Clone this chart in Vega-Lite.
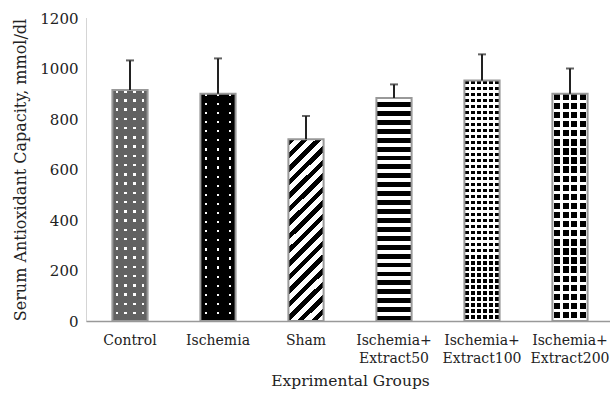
{
"$schema":"https://vega.github.io/schema/vega-lite/v6.json",
"width":528,"height":303,
"autosize":{"type":"none"},
"padding":{"left":86,"top":18,"right":0,"bottom":76},
"background":"white",
"config":{"view":{"stroke":null},"font":"DejaVu Serif"},
"data":{"values":[
{"group":"Control","value":915,"err":1032},
{"group":"Ischemia","value":900,"err":1040},
{"group":"Sham","value":720,"err":812},
{"group":"Ischemia+ Extract50","value":883,"err":937},
{"group":"Ischemia+ Extract100","value":952,"err":1056},
{"group":"Ischemia+ Extract200","value":900,"err":1000}
]},
"encoding":{
"x":{"field":"group","type":"nominal","sort":null,
 "scale":{"domain":["Control","Ischemia","Sham","Ischemia+ Extract50","Ischemia+ Extract100","Ischemia+ Extract200"],"paddingInner":0.6,"paddingOuter":0.3},
 "axis":{"title":"Exprimental Groups","labelAngle":0,"ticks":false,"domainColor":"#999","domainWidth":1.5,"labelPadding":12,"labelFontSize":14,"labelColor":"#222","labelLineHeight":18,"labelBaseline":"top",
 "labelExpr":"length(split(datum.label,'+ '))>1 ? [split(datum.label,'+ ')[0]+'+', split(datum.label,'+ ')[1]] : datum.label",
 "titleFontSize":15.5,"titleFontWeight":"normal","titleColor":"#222","titlePadding":8}},
"y":{"field":"value","type":"quantitative","scale":{"domain":[0,1200]},
 "axis":{"values":[0,200,400,600,800,1000,1200],"format":"d","ticks":false,"grid":false,"domainColor":"#aaa","domainDash":[1,1],"labelPadding":8,"labelFontSize":15,"labelColor":"#222",
 "title":"Serum Antioxidant Capacity, mmol/dl","titleFontSize":16,"titleFontWeight":"normal","titleColor":"#222","titlePadding":11}}
},
"layer":[
{"mark":{"type":"bar"},"encoding":{"fill":{"field":"group","type":"nominal","scale":{"domain":["Control","Ischemia","Sham","Ischemia+ Extract50","Ischemia+ Extract100","Ischemia+ Extract200"],"range":["#ffffff","#ffffff","#ffffff","#ffffff","#000000","#000000"]},"legend":null}}},
{"transform":[{"filter":"datum.group=='Control'"}],"mark":{"type":"bar","fill":{"gradient":"linear","x1":0,"y1":0,"x2":0,"y2":1,"stops":[
{"offset":0,"color":"transparent"},{"offset":0.011,"color":"transparent"},{"offset":0.011,"color":"#626262"},{"offset":0.04,"color":"#626262"},
{"offset":0.04,"color":"transparent"},{"offset":0.051,"color":"transparent"},{"offset":0.051,"color":"#626262"},{"offset":0.08,"color":"#626262"},
{"offset":0.08,"color":"transparent"},{"offset":0.091,"color":"transparent"},{"offset":0.091,"color":"#626262"},{"offset":0.12,"color":"#626262"},
{"offset":0.12,"color":"transparent"},{"offset":0.131,"color":"transparent"},{"offset":0.131,"color":"#626262"},{"offset":0.16,"color":"#626262"},
{"offset":0.16,"color":"transparent"},{"offset":0.171,"color":"transparent"},{"offset":0.171,"color":"#626262"},{"offset":0.2,"color":"#626262"},
{"offset":0.2,"color":"transparent"},{"offset":0.211,"color":"transparent"},{"offset":0.211,"color":"#626262"},{"offset":0.24,"color":"#626262"},
{"offset":0.24,"color":"transparent"},{"offset":0.251,"color":"transparent"},{"offset":0.251,"color":"#626262"},{"offset":0.28,"color":"#626262"},
{"offset":0.28,"color":"transparent"},{"offset":0.291,"color":"transparent"},{"offset":0.291,"color":"#626262"},{"offset":0.32,"color":"#626262"},
{"offset":0.32,"color":"transparent"},{"offset":0.331,"color":"transparent"},{"offset":0.331,"color":"#626262"},{"offset":0.36,"color":"#626262"},
{"offset":0.36,"color":"transparent"},{"offset":0.371,"color":"transparent"},{"offset":0.371,"color":"#626262"},{"offset":0.4,"color":"#626262"},
{"offset":0.4,"color":"transparent"},{"offset":0.411,"color":"transparent"},{"offset":0.411,"color":"#626262"},{"offset":0.44,"color":"#626262"},
{"offset":0.44,"color":"transparent"},{"offset":0.451,"color":"transparent"},{"offset":0.451,"color":"#626262"},{"offset":0.48,"color":"#626262"},
{"offset":0.48,"color":"transparent"},{"offset":0.491,"color":"transparent"},{"offset":0.491,"color":"#626262"},{"offset":0.52,"color":"#626262"},
{"offset":0.52,"color":"transparent"},{"offset":0.531,"color":"transparent"},{"offset":0.531,"color":"#626262"},{"offset":0.56,"color":"#626262"},
{"offset":0.56,"color":"transparent"},{"offset":0.571,"color":"transparent"},{"offset":0.571,"color":"#626262"},{"offset":0.6,"color":"#626262"},
{"offset":0.6,"color":"transparent"},{"offset":0.611,"color":"transparent"},{"offset":0.611,"color":"#626262"},{"offset":0.64,"color":"#626262"},
{"offset":0.64,"color":"transparent"},{"offset":0.651,"color":"transparent"},{"offset":0.651,"color":"#626262"},{"offset":0.68,"color":"#626262"},
{"offset":0.68,"color":"transparent"},{"offset":0.691,"color":"transparent"},{"offset":0.691,"color":"#626262"},{"offset":0.72,"color":"#626262"},
{"offset":0.72,"color":"transparent"},{"offset":0.731,"color":"transparent"},{"offset":0.731,"color":"#626262"},{"offset":0.76,"color":"#626262"},
{"offset":0.76,"color":"transparent"},{"offset":0.771,"color":"transparent"},{"offset":0.771,"color":"#626262"},{"offset":0.8,"color":"#626262"},
{"offset":0.8,"color":"transparent"},{"offset":0.811,"color":"transparent"},{"offset":0.811,"color":"#626262"},{"offset":0.84,"color":"#626262"},
{"offset":0.84,"color":"transparent"},{"offset":0.851,"color":"transparent"},{"offset":0.851,"color":"#626262"},{"offset":0.88,"color":"#626262"},
{"offset":0.88,"color":"transparent"},{"offset":0.891,"color":"transparent"},{"offset":0.891,"color":"#626262"},{"offset":0.92,"color":"#626262"},
{"offset":0.92,"color":"transparent"},{"offset":0.931,"color":"transparent"},{"offset":0.931,"color":"#626262"},{"offset":0.96,"color":"#626262"},
{"offset":0.96,"color":"transparent"},{"offset":0.971,"color":"transparent"},{"offset":0.971,"color":"#626262"},{"offset":1,"color":"#626262"}
]}}},
{"transform":[{"filter":"datum.group=='Control'"}],"mark":{"type":"bar","fill":{"gradient":"linear","x1":0,"y1":0,"x2":1,"y2":0,"stops":[
{"offset":0,"color":"#626262"},{"offset":0.09,"color":"#626262"},{"offset":0.09,"color":"transparent"},{"offset":0.16,"color":"transparent"},
{"offset":0.16,"color":"#626262"},{"offset":0.34,"color":"#626262"},{"offset":0.34,"color":"transparent"},{"offset":0.41,"color":"transparent"},
{"offset":0.41,"color":"#626262"},{"offset":0.59,"color":"#626262"},{"offset":0.59,"color":"transparent"},{"offset":0.66,"color":"transparent"},
{"offset":0.66,"color":"#626262"},{"offset":0.84,"color":"#626262"},{"offset":0.84,"color":"transparent"},{"offset":0.91,"color":"transparent"},
{"offset":0.91,"color":"#626262"},{"offset":1,"color":"#626262"}
]}}},
{"transform":[{"filter":"datum.group=='Ischemia'"}],"mark":{"type":"bar","fill":{"gradient":"linear","x1":0,"y1":0,"x2":0,"y2":1,"stops":[
{"offset":0,"color":"transparent"},{"offset":0.01,"color":"transparent"},{"offset":0.01,"color":"#000"},{"offset":0.04,"color":"#000"},
{"offset":0.04,"color":"transparent"},{"offset":0.05,"color":"transparent"},{"offset":0.05,"color":"#000"},{"offset":0.08,"color":"#000"},
{"offset":0.08,"color":"transparent"},{"offset":0.09,"color":"transparent"},{"offset":0.09,"color":"#000"},{"offset":0.12,"color":"#000"},
{"offset":0.12,"color":"transparent"},{"offset":0.13,"color":"transparent"},{"offset":0.13,"color":"#000"},{"offset":0.16,"color":"#000"},
{"offset":0.16,"color":"transparent"},{"offset":0.17,"color":"transparent"},{"offset":0.17,"color":"#000"},{"offset":0.2,"color":"#000"},
{"offset":0.2,"color":"transparent"},{"offset":0.21,"color":"transparent"},{"offset":0.21,"color":"#000"},{"offset":0.24,"color":"#000"},
{"offset":0.24,"color":"transparent"},{"offset":0.25,"color":"transparent"},{"offset":0.25,"color":"#000"},{"offset":0.28,"color":"#000"},
{"offset":0.28,"color":"transparent"},{"offset":0.29,"color":"transparent"},{"offset":0.29,"color":"#000"},{"offset":0.32,"color":"#000"},
{"offset":0.32,"color":"transparent"},{"offset":0.33,"color":"transparent"},{"offset":0.33,"color":"#000"},{"offset":0.36,"color":"#000"},
{"offset":0.36,"color":"transparent"},{"offset":0.37,"color":"transparent"},{"offset":0.37,"color":"#000"},{"offset":0.4,"color":"#000"},
{"offset":0.4,"color":"transparent"},{"offset":0.41,"color":"transparent"},{"offset":0.41,"color":"#000"},{"offset":0.44,"color":"#000"},
{"offset":0.44,"color":"transparent"},{"offset":0.45,"color":"transparent"},{"offset":0.45,"color":"#000"},{"offset":0.48,"color":"#000"},
{"offset":0.48,"color":"transparent"},{"offset":0.49,"color":"transparent"},{"offset":0.49,"color":"#000"},{"offset":0.52,"color":"#000"},
{"offset":0.52,"color":"transparent"},{"offset":0.53,"color":"transparent"},{"offset":0.53,"color":"#000"},{"offset":0.56,"color":"#000"},
{"offset":0.56,"color":"transparent"},{"offset":0.57,"color":"transparent"},{"offset":0.57,"color":"#000"},{"offset":0.6,"color":"#000"},
{"offset":0.6,"color":"transparent"},{"offset":0.61,"color":"transparent"},{"offset":0.61,"color":"#000"},{"offset":0.64,"color":"#000"},
{"offset":0.64,"color":"transparent"},{"offset":0.65,"color":"transparent"},{"offset":0.65,"color":"#000"},{"offset":0.68,"color":"#000"},
{"offset":0.68,"color":"transparent"},{"offset":0.69,"color":"transparent"},{"offset":0.69,"color":"#000"},{"offset":0.72,"color":"#000"},
{"offset":0.72,"color":"transparent"},{"offset":0.73,"color":"transparent"},{"offset":0.73,"color":"#000"},{"offset":0.76,"color":"#000"},
{"offset":0.76,"color":"transparent"},{"offset":0.77,"color":"transparent"},{"offset":0.77,"color":"#000"},{"offset":0.8,"color":"#000"},
{"offset":0.8,"color":"transparent"},{"offset":0.81,"color":"transparent"},{"offset":0.81,"color":"#000"},{"offset":0.84,"color":"#000"},
{"offset":0.84,"color":"transparent"},{"offset":0.85,"color":"transparent"},{"offset":0.85,"color":"#000"},{"offset":0.88,"color":"#000"},
{"offset":0.88,"color":"transparent"},{"offset":0.89,"color":"transparent"},{"offset":0.89,"color":"#000"},{"offset":0.92,"color":"#000"},
{"offset":0.92,"color":"transparent"},{"offset":0.93,"color":"transparent"},{"offset":0.93,"color":"#000"},{"offset":0.96,"color":"#000"},
{"offset":0.96,"color":"transparent"},{"offset":0.97,"color":"transparent"},{"offset":0.97,"color":"#000"},{"offset":1,"color":"#000"}
]}}},
{"transform":[{"filter":"datum.group=='Ischemia'"}],"mark":{"type":"bar","fill":{"gradient":"linear","x1":0,"y1":0,"x2":1,"y2":0,"stops":[
{"offset":0,"color":"#000"},{"offset":0.133,"color":"#000"},{"offset":0.133,"color":"transparent"},{"offset":0.2,"color":"transparent"},
{"offset":0.2,"color":"#000"},{"offset":0.467,"color":"#000"},{"offset":0.467,"color":"transparent"},{"offset":0.533,"color":"transparent"},
{"offset":0.533,"color":"#000"},{"offset":0.8,"color":"#000"},{"offset":0.8,"color":"transparent"},{"offset":0.867,"color":"transparent"},
{"offset":0.867,"color":"#000"},{"offset":1,"color":"#000"}
]}}},
{"transform":[{"filter":"datum.group=='Sham'"}],"mark":{"type":"bar","fill":{"gradient":"linear","x1":0,"y1":0,"x2":0.22,"y2":1.15,"stops":[
{"offset":0,"color":"#000"},{"offset":0.03,"color":"#000"},{"offset":0.03,"color":"#fff"},{"offset":0.0625,"color":"#fff"},
{"offset":0.0625,"color":"#000"},{"offset":0.0925,"color":"#000"},{"offset":0.0925,"color":"#fff"},{"offset":0.125,"color":"#fff"},
{"offset":0.125,"color":"#000"},{"offset":0.155,"color":"#000"},{"offset":0.155,"color":"#fff"},{"offset":0.1875,"color":"#fff"},
{"offset":0.1875,"color":"#000"},{"offset":0.2175,"color":"#000"},{"offset":0.2175,"color":"#fff"},{"offset":0.25,"color":"#fff"},
{"offset":0.25,"color":"#000"},{"offset":0.28,"color":"#000"},{"offset":0.28,"color":"#fff"},{"offset":0.3125,"color":"#fff"},
{"offset":0.3125,"color":"#000"},{"offset":0.3425,"color":"#000"},{"offset":0.3425,"color":"#fff"},{"offset":0.375,"color":"#fff"},
{"offset":0.375,"color":"#000"},{"offset":0.405,"color":"#000"},{"offset":0.405,"color":"#fff"},{"offset":0.4375,"color":"#fff"},
{"offset":0.4375,"color":"#000"},{"offset":0.4675,"color":"#000"},{"offset":0.4675,"color":"#fff"},{"offset":0.5,"color":"#fff"},
{"offset":0.5,"color":"#000"},{"offset":0.53,"color":"#000"},{"offset":0.53,"color":"#fff"},{"offset":0.5625,"color":"#fff"},
{"offset":0.5625,"color":"#000"},{"offset":0.5925,"color":"#000"},{"offset":0.5925,"color":"#fff"},{"offset":0.625,"color":"#fff"},
{"offset":0.625,"color":"#000"},{"offset":0.655,"color":"#000"},{"offset":0.655,"color":"#fff"},{"offset":0.6875,"color":"#fff"},
{"offset":0.6875,"color":"#000"},{"offset":0.7175,"color":"#000"},{"offset":0.7175,"color":"#fff"},{"offset":0.75,"color":"#fff"},
{"offset":0.75,"color":"#000"},{"offset":0.78,"color":"#000"},{"offset":0.78,"color":"#fff"},{"offset":0.8125,"color":"#fff"},
{"offset":0.8125,"color":"#000"},{"offset":0.8425,"color":"#000"},{"offset":0.8425,"color":"#fff"},{"offset":0.875,"color":"#fff"},
{"offset":0.875,"color":"#000"},{"offset":0.905,"color":"#000"},{"offset":0.905,"color":"#fff"},{"offset":0.9375,"color":"#fff"},
{"offset":0.9375,"color":"#000"},{"offset":0.9675,"color":"#000"},{"offset":0.9675,"color":"#fff"},{"offset":1,"color":"#fff"}
]}}},
{"transform":[{"filter":"datum.group=='Ischemia+ Extract50'"}],"mark":{"type":"bar","fill":{"gradient":"linear","x1":0,"y1":0,"x2":0,"y2":1,"stops":[
{"offset":0,"color":"#fff"},{"offset":0.018,"color":"#fff"},{"offset":0.018,"color":"#000"},{"offset":0.04,"color":"#000"},
{"offset":0.04,"color":"#fff"},{"offset":0.058,"color":"#fff"},{"offset":0.058,"color":"#000"},{"offset":0.08,"color":"#000"},
{"offset":0.08,"color":"#fff"},{"offset":0.098,"color":"#fff"},{"offset":0.098,"color":"#000"},{"offset":0.12,"color":"#000"},
{"offset":0.12,"color":"#fff"},{"offset":0.138,"color":"#fff"},{"offset":0.138,"color":"#000"},{"offset":0.16,"color":"#000"},
{"offset":0.16,"color":"#fff"},{"offset":0.178,"color":"#fff"},{"offset":0.178,"color":"#000"},{"offset":0.2,"color":"#000"},
{"offset":0.2,"color":"#fff"},{"offset":0.218,"color":"#fff"},{"offset":0.218,"color":"#000"},{"offset":0.24,"color":"#000"},
{"offset":0.24,"color":"#fff"},{"offset":0.258,"color":"#fff"},{"offset":0.258,"color":"#000"},{"offset":0.28,"color":"#000"},
{"offset":0.28,"color":"#fff"},{"offset":0.298,"color":"#fff"},{"offset":0.298,"color":"#000"},{"offset":0.32,"color":"#000"},
{"offset":0.32,"color":"#fff"},{"offset":0.338,"color":"#fff"},{"offset":0.338,"color":"#000"},{"offset":0.36,"color":"#000"},
{"offset":0.36,"color":"#fff"},{"offset":0.378,"color":"#fff"},{"offset":0.378,"color":"#000"},{"offset":0.4,"color":"#000"},
{"offset":0.4,"color":"#fff"},{"offset":0.418,"color":"#fff"},{"offset":0.418,"color":"#000"},{"offset":0.44,"color":"#000"},
{"offset":0.44,"color":"#fff"},{"offset":0.458,"color":"#fff"},{"offset":0.458,"color":"#000"},{"offset":0.48,"color":"#000"},
{"offset":0.48,"color":"#fff"},{"offset":0.498,"color":"#fff"},{"offset":0.498,"color":"#000"},{"offset":0.52,"color":"#000"},
{"offset":0.52,"color":"#fff"},{"offset":0.538,"color":"#fff"},{"offset":0.538,"color":"#000"},{"offset":0.56,"color":"#000"},
{"offset":0.56,"color":"#fff"},{"offset":0.578,"color":"#fff"},{"offset":0.578,"color":"#000"},{"offset":0.6,"color":"#000"},
{"offset":0.6,"color":"#fff"},{"offset":0.618,"color":"#fff"},{"offset":0.618,"color":"#000"},{"offset":0.64,"color":"#000"},
{"offset":0.64,"color":"#fff"},{"offset":0.658,"color":"#fff"},{"offset":0.658,"color":"#000"},{"offset":0.68,"color":"#000"},
{"offset":0.68,"color":"#fff"},{"offset":0.698,"color":"#fff"},{"offset":0.698,"color":"#000"},{"offset":0.72,"color":"#000"},
{"offset":0.72,"color":"#fff"},{"offset":0.738,"color":"#fff"},{"offset":0.738,"color":"#000"},{"offset":0.76,"color":"#000"},
{"offset":0.76,"color":"#fff"},{"offset":0.778,"color":"#fff"},{"offset":0.778,"color":"#000"},{"offset":0.8,"color":"#000"},
{"offset":0.8,"color":"#fff"},{"offset":0.818,"color":"#fff"},{"offset":0.818,"color":"#000"},{"offset":0.84,"color":"#000"},
{"offset":0.84,"color":"#fff"},{"offset":0.858,"color":"#fff"},{"offset":0.858,"color":"#000"},{"offset":0.88,"color":"#000"},
{"offset":0.88,"color":"#fff"},{"offset":0.898,"color":"#fff"},{"offset":0.898,"color":"#000"},{"offset":0.92,"color":"#000"},
{"offset":0.92,"color":"#fff"},{"offset":0.938,"color":"#fff"},{"offset":0.938,"color":"#000"},{"offset":0.96,"color":"#000"},
{"offset":0.96,"color":"#fff"},{"offset":0.978,"color":"#fff"},{"offset":0.978,"color":"#000"},{"offset":1,"color":"#000"}
]}}},
{"transform":[{"filter":"datum.group=='Ischemia+ Extract100'"}],"mark":{"type":"bar","fill":{"gradient":"linear","x1":0,"y1":0,"x2":0,"y2":1,"stops":[
{"offset":0,"color":"transparent"},{"offset":0.015,"color":"transparent"},{"offset":0.015,"color":"#fff"},{"offset":0.025,"color":"#fff"},
{"offset":0.025,"color":"transparent"},{"offset":0.04,"color":"transparent"},{"offset":0.04,"color":"#fff"},{"offset":0.05,"color":"#fff"},
{"offset":0.05,"color":"transparent"},{"offset":0.065,"color":"transparent"},{"offset":0.065,"color":"#fff"},{"offset":0.075,"color":"#fff"},
{"offset":0.075,"color":"transparent"},{"offset":0.09,"color":"transparent"},{"offset":0.09,"color":"#fff"},{"offset":0.1,"color":"#fff"},
{"offset":0.1,"color":"transparent"},{"offset":0.115,"color":"transparent"},{"offset":0.115,"color":"#fff"},{"offset":0.125,"color":"#fff"},
{"offset":0.125,"color":"transparent"},{"offset":0.14,"color":"transparent"},{"offset":0.14,"color":"#fff"},{"offset":0.15,"color":"#fff"},
{"offset":0.15,"color":"transparent"},{"offset":0.165,"color":"transparent"},{"offset":0.165,"color":"#fff"},{"offset":0.175,"color":"#fff"},
{"offset":0.175,"color":"transparent"},{"offset":0.19,"color":"transparent"},{"offset":0.19,"color":"#fff"},{"offset":0.2,"color":"#fff"},
{"offset":0.2,"color":"transparent"},{"offset":0.215,"color":"transparent"},{"offset":0.215,"color":"#fff"},{"offset":0.225,"color":"#fff"},
{"offset":0.225,"color":"transparent"},{"offset":0.24,"color":"transparent"},{"offset":0.24,"color":"#fff"},{"offset":0.25,"color":"#fff"},
{"offset":0.25,"color":"transparent"},{"offset":0.265,"color":"transparent"},{"offset":0.265,"color":"#fff"},{"offset":0.275,"color":"#fff"},
{"offset":0.275,"color":"transparent"},{"offset":0.29,"color":"transparent"},{"offset":0.29,"color":"#fff"},{"offset":0.3,"color":"#fff"},
{"offset":0.3,"color":"transparent"},{"offset":0.315,"color":"transparent"},{"offset":0.315,"color":"#fff"},{"offset":0.325,"color":"#fff"},
{"offset":0.325,"color":"transparent"},{"offset":0.34,"color":"transparent"},{"offset":0.34,"color":"#fff"},{"offset":0.35,"color":"#fff"},
{"offset":0.35,"color":"transparent"},{"offset":0.365,"color":"transparent"},{"offset":0.365,"color":"#fff"},{"offset":0.375,"color":"#fff"},
{"offset":0.375,"color":"transparent"},{"offset":0.39,"color":"transparent"},{"offset":0.39,"color":"#fff"},{"offset":0.4,"color":"#fff"},
{"offset":0.4,"color":"transparent"},{"offset":0.415,"color":"transparent"},{"offset":0.415,"color":"#fff"},{"offset":0.425,"color":"#fff"},
{"offset":0.425,"color":"transparent"},{"offset":0.44,"color":"transparent"},{"offset":0.44,"color":"#fff"},{"offset":0.45,"color":"#fff"},
{"offset":0.45,"color":"transparent"},{"offset":0.465,"color":"transparent"},{"offset":0.465,"color":"#fff"},{"offset":0.475,"color":"#fff"},
{"offset":0.475,"color":"transparent"},{"offset":0.49,"color":"transparent"},{"offset":0.49,"color":"#fff"},{"offset":0.5,"color":"#fff"},
{"offset":0.5,"color":"transparent"},{"offset":0.515,"color":"transparent"},{"offset":0.515,"color":"#fff"},{"offset":0.525,"color":"#fff"},
{"offset":0.525,"color":"transparent"},{"offset":0.54,"color":"transparent"},{"offset":0.54,"color":"#fff"},{"offset":0.55,"color":"#fff"},
{"offset":0.55,"color":"transparent"},{"offset":0.565,"color":"transparent"},{"offset":0.565,"color":"#fff"},{"offset":0.575,"color":"#fff"},
{"offset":0.575,"color":"transparent"},{"offset":0.59,"color":"transparent"},{"offset":0.59,"color":"#fff"},{"offset":0.6,"color":"#fff"},
{"offset":0.6,"color":"transparent"},{"offset":0.615,"color":"transparent"},{"offset":0.615,"color":"#fff"},{"offset":0.625,"color":"#fff"},
{"offset":0.625,"color":"transparent"},{"offset":0.64,"color":"transparent"},{"offset":0.64,"color":"#fff"},{"offset":0.65,"color":"#fff"},
{"offset":0.65,"color":"transparent"},{"offset":0.665,"color":"transparent"},{"offset":0.665,"color":"#fff"},{"offset":0.675,"color":"#fff"},
{"offset":0.675,"color":"transparent"},{"offset":0.69,"color":"transparent"},{"offset":0.69,"color":"#fff"},{"offset":0.7,"color":"#fff"},
{"offset":0.7,"color":"transparent"},{"offset":0.715,"color":"transparent"},{"offset":0.715,"color":"#fff"},{"offset":0.725,"color":"#fff"},
{"offset":0.725,"color":"transparent"},{"offset":0.74,"color":"transparent"},{"offset":0.74,"color":"#fff"},{"offset":0.75,"color":"#fff"},
{"offset":0.75,"color":"transparent"},{"offset":0.765,"color":"transparent"},{"offset":0.765,"color":"#fff"},{"offset":0.775,"color":"#fff"},
{"offset":0.775,"color":"transparent"},{"offset":0.79,"color":"transparent"},{"offset":0.79,"color":"#fff"},{"offset":0.8,"color":"#fff"},
{"offset":0.8,"color":"transparent"},{"offset":0.815,"color":"transparent"},{"offset":0.815,"color":"#fff"},{"offset":0.825,"color":"#fff"},
{"offset":0.825,"color":"transparent"},{"offset":0.84,"color":"transparent"},{"offset":0.84,"color":"#fff"},{"offset":0.85,"color":"#fff"},
{"offset":0.85,"color":"transparent"},{"offset":0.865,"color":"transparent"},{"offset":0.865,"color":"#fff"},{"offset":0.875,"color":"#fff"},
{"offset":0.875,"color":"transparent"},{"offset":0.89,"color":"transparent"},{"offset":0.89,"color":"#fff"},{"offset":0.9,"color":"#fff"},
{"offset":0.9,"color":"transparent"},{"offset":0.915,"color":"transparent"},{"offset":0.915,"color":"#fff"},{"offset":0.925,"color":"#fff"},
{"offset":0.925,"color":"transparent"},{"offset":0.94,"color":"transparent"},{"offset":0.94,"color":"#fff"},{"offset":0.95,"color":"#fff"},
{"offset":0.95,"color":"transparent"},{"offset":0.965,"color":"transparent"},{"offset":0.965,"color":"#fff"},{"offset":0.975,"color":"#fff"},
{"offset":0.975,"color":"transparent"},{"offset":0.99,"color":"transparent"},{"offset":0.99,"color":"#fff"},{"offset":1,"color":"#fff"}
]}}},
{"transform":[{"filter":"datum.group=='Ischemia+ Extract100'"}],"mark":{"type":"bar","fill":{"gradient":"linear","x1":0,"y1":0,"x2":1,"y2":0,"stops":[
{"offset":0,"color":"#fff"},{"offset":0.028,"color":"#fff"},{"offset":0.028,"color":"transparent"},{"offset":0.138,"color":"transparent"},
{"offset":0.138,"color":"#fff"},{"offset":0.195,"color":"#fff"},{"offset":0.195,"color":"transparent"},{"offset":0.305,"color":"transparent"},
{"offset":0.305,"color":"#fff"},{"offset":0.362,"color":"#fff"},{"offset":0.362,"color":"transparent"},{"offset":0.472,"color":"transparent"},
{"offset":0.472,"color":"#fff"},{"offset":0.528,"color":"#fff"},{"offset":0.528,"color":"transparent"},{"offset":0.638,"color":"transparent"},
{"offset":0.638,"color":"#fff"},{"offset":0.695,"color":"#fff"},{"offset":0.695,"color":"transparent"},{"offset":0.805,"color":"transparent"},
{"offset":0.805,"color":"#fff"},{"offset":0.862,"color":"#fff"},{"offset":0.862,"color":"transparent"},{"offset":0.972,"color":"transparent"},
{"offset":0.972,"color":"#fff"},{"offset":1,"color":"#fff"}
]}}},
{"transform":[{"filter":"datum.group=='Ischemia+ Extract200'"}],"mark":{"type":"bar","fill":{"gradient":"linear","x1":0,"y1":0,"x2":0,"y2":1,"stops":[
{"offset":0,"color":"transparent"},{"offset":0.028,"color":"transparent"},{"offset":0.028,"color":"#fff"},{"offset":0.04,"color":"#fff"},
{"offset":0.04,"color":"transparent"},{"offset":0.068,"color":"transparent"},{"offset":0.068,"color":"#fff"},{"offset":0.08,"color":"#fff"},
{"offset":0.08,"color":"transparent"},{"offset":0.108,"color":"transparent"},{"offset":0.108,"color":"#fff"},{"offset":0.12,"color":"#fff"},
{"offset":0.12,"color":"transparent"},{"offset":0.148,"color":"transparent"},{"offset":0.148,"color":"#fff"},{"offset":0.16,"color":"#fff"},
{"offset":0.16,"color":"transparent"},{"offset":0.188,"color":"transparent"},{"offset":0.188,"color":"#fff"},{"offset":0.2,"color":"#fff"},
{"offset":0.2,"color":"transparent"},{"offset":0.228,"color":"transparent"},{"offset":0.228,"color":"#fff"},{"offset":0.24,"color":"#fff"},
{"offset":0.24,"color":"transparent"},{"offset":0.268,"color":"transparent"},{"offset":0.268,"color":"#fff"},{"offset":0.28,"color":"#fff"},
{"offset":0.28,"color":"transparent"},{"offset":0.308,"color":"transparent"},{"offset":0.308,"color":"#fff"},{"offset":0.32,"color":"#fff"},
{"offset":0.32,"color":"transparent"},{"offset":0.348,"color":"transparent"},{"offset":0.348,"color":"#fff"},{"offset":0.36,"color":"#fff"},
{"offset":0.36,"color":"transparent"},{"offset":0.388,"color":"transparent"},{"offset":0.388,"color":"#fff"},{"offset":0.4,"color":"#fff"},
{"offset":0.4,"color":"transparent"},{"offset":0.428,"color":"transparent"},{"offset":0.428,"color":"#fff"},{"offset":0.44,"color":"#fff"},
{"offset":0.44,"color":"transparent"},{"offset":0.468,"color":"transparent"},{"offset":0.468,"color":"#fff"},{"offset":0.48,"color":"#fff"},
{"offset":0.48,"color":"transparent"},{"offset":0.508,"color":"transparent"},{"offset":0.508,"color":"#fff"},{"offset":0.52,"color":"#fff"},
{"offset":0.52,"color":"transparent"},{"offset":0.548,"color":"transparent"},{"offset":0.548,"color":"#fff"},{"offset":0.56,"color":"#fff"},
{"offset":0.56,"color":"transparent"},{"offset":0.588,"color":"transparent"},{"offset":0.588,"color":"#fff"},{"offset":0.6,"color":"#fff"},
{"offset":0.6,"color":"transparent"},{"offset":0.628,"color":"transparent"},{"offset":0.628,"color":"#fff"},{"offset":0.64,"color":"#fff"},
{"offset":0.64,"color":"transparent"},{"offset":0.668,"color":"transparent"},{"offset":0.668,"color":"#fff"},{"offset":0.68,"color":"#fff"},
{"offset":0.68,"color":"transparent"},{"offset":0.708,"color":"transparent"},{"offset":0.708,"color":"#fff"},{"offset":0.72,"color":"#fff"},
{"offset":0.72,"color":"transparent"},{"offset":0.748,"color":"transparent"},{"offset":0.748,"color":"#fff"},{"offset":0.76,"color":"#fff"},
{"offset":0.76,"color":"transparent"},{"offset":0.788,"color":"transparent"},{"offset":0.788,"color":"#fff"},{"offset":0.8,"color":"#fff"},
{"offset":0.8,"color":"transparent"},{"offset":0.828,"color":"transparent"},{"offset":0.828,"color":"#fff"},{"offset":0.84,"color":"#fff"},
{"offset":0.84,"color":"transparent"},{"offset":0.868,"color":"transparent"},{"offset":0.868,"color":"#fff"},{"offset":0.88,"color":"#fff"},
{"offset":0.88,"color":"transparent"},{"offset":0.908,"color":"transparent"},{"offset":0.908,"color":"#fff"},{"offset":0.92,"color":"#fff"},
{"offset":0.92,"color":"transparent"},{"offset":0.948,"color":"transparent"},{"offset":0.948,"color":"#fff"},{"offset":0.96,"color":"#fff"},
{"offset":0.96,"color":"transparent"},{"offset":0.988,"color":"transparent"},{"offset":0.988,"color":"#fff"},{"offset":1,"color":"#fff"}
]}}},
{"transform":[{"filter":"datum.group=='Ischemia+ Extract200'"}],"mark":{"type":"bar","fill":{"gradient":"linear","x1":0,"y1":0,"x2":1,"y2":0,"stops":[
{"offset":0,"color":"#fff"},{"offset":0.04,"color":"#fff"},{"offset":0.04,"color":"transparent"},{"offset":0.21,"color":"transparent"},
{"offset":0.21,"color":"#fff"},{"offset":0.29,"color":"#fff"},{"offset":0.29,"color":"transparent"},{"offset":0.46,"color":"transparent"},
{"offset":0.46,"color":"#fff"},{"offset":0.54,"color":"#fff"},{"offset":0.54,"color":"transparent"},{"offset":0.71,"color":"transparent"},
{"offset":0.71,"color":"#fff"},{"offset":0.79,"color":"#fff"},{"offset":0.79,"color":"transparent"},{"offset":0.96,"color":"transparent"},
{"offset":0.96,"color":"#fff"},{"offset":1,"color":"#fff"}
]}}},
{"mark":{"type":"bar","fill":"transparent","stroke":"#999","strokeWidth":2}},
{"mark":{"type":"rule","color":"#222","strokeWidth":2},"encoding":{"y2":{"field":"err"}}},
{"mark":{"type":"tick","color":"#222","size":8,"thickness":2},"encoding":{"y":{"field":"err","type":"quantitative"}}}
]
}
